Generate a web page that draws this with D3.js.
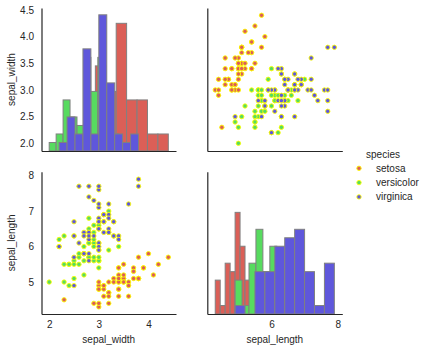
<!DOCTYPE html>
<html>
<head>
<meta charset="utf-8">
<script src="https://cdn.jsdelivr.net/npm/d3@7"></script>
<style>
    body { margin: 0; background: #fff; }
    text { font-family: "Liberation Sans", Arial, sans-serif; fill: #262626; }
</style>
</head>
<body>
<div id="chart_container"></div>
<script>
// iris, sepal measurements by species
var species = ["setosa", "versicolor", "virginica"];
var speciesColors = ["#db5f57", "#57db5f", "#5f57db"];

var setosaLength = [5.1, 4.9, 4.7, 4.6, 5.0, 5.4, 4.6, 5.0, 4.4, 4.9, 5.4, 4.8, 4.8, 4.3, 5.8, 5.7, 5.4, 5.1, 5.7, 5.1,
    5.4, 5.1, 4.6, 5.1, 4.8, 5.0, 5.0, 5.2, 5.2, 4.7, 4.8, 5.4, 5.2, 5.5, 4.9, 5.0, 5.5, 4.9, 4.4, 5.1,
    5.0, 4.5, 4.4, 5.0, 5.1, 4.8, 5.1, 4.6, 5.3, 5.0];
var setosaWidth = [3.5, 3.0, 3.2, 3.1, 3.6, 3.9, 3.4, 3.4, 2.9, 3.1, 3.7, 3.4, 3.0, 3.0, 4.0, 4.4, 3.9, 3.5, 3.8, 3.8,
    3.4, 3.7, 3.6, 3.3, 3.4, 3.0, 3.4, 3.5, 3.4, 3.2, 3.1, 3.4, 4.1, 4.2, 3.1, 3.2, 3.5, 3.6, 3.0, 3.4,
    3.5, 2.3, 3.2, 3.5, 3.8, 3.0, 3.8, 3.2, 3.7, 3.3];
var versicolorLength = [7.0, 6.4, 6.9, 5.5, 6.5, 5.7, 6.3, 4.9, 6.6, 5.2, 5.0, 5.9, 6.0, 6.1, 5.6, 6.7, 5.6, 5.8, 6.2, 5.6,
    5.9, 6.1, 6.3, 6.1, 6.4, 6.6, 6.8, 6.7, 6.0, 5.7, 5.5, 5.5, 5.8, 6.0, 5.4, 6.0, 6.7, 6.3, 5.6, 5.5,
    5.5, 6.1, 5.8, 5.0, 5.6, 5.7, 5.7, 6.2, 5.1, 5.7];
var versicolorWidth = [3.2, 3.2, 3.1, 2.3, 2.8, 2.8, 3.3, 2.4, 2.9, 2.7, 2.0, 3.0, 2.2, 2.9, 2.9, 3.1, 3.0, 2.7, 2.2, 2.5,
    3.2, 2.8, 2.5, 2.8, 2.9, 3.0, 2.8, 3.0, 2.9, 2.6, 2.4, 2.4, 2.7, 2.7, 3.0, 3.4, 3.1, 2.3, 3.0, 2.5,
    2.6, 3.0, 2.6, 2.3, 2.7, 3.0, 2.9, 2.9, 2.5, 2.8];
var virginicaLength = [6.3, 5.8, 7.1, 6.3, 6.5, 7.6, 4.9, 7.3, 6.7, 7.2, 6.5, 6.4, 6.8, 5.7, 5.8, 6.4, 6.5, 7.7, 7.7, 6.0,
    6.9, 5.6, 7.7, 6.3, 6.7, 7.2, 6.2, 6.1, 6.4, 7.2, 7.4, 7.9, 6.4, 6.3, 6.1, 7.7, 6.3, 6.4, 6.0, 6.9,
    6.7, 6.9, 5.8, 6.8, 6.7, 6.7, 6.3, 6.5, 6.2, 5.9];
var virginicaWidth = [3.3, 2.7, 3.0, 2.9, 3.0, 3.0, 2.5, 2.9, 2.5, 3.6, 3.2, 2.7, 3.0, 2.5, 2.8, 3.2, 3.0, 3.8, 2.6, 2.2,
    3.2, 2.8, 2.8, 2.7, 3.3, 3.2, 2.8, 3.0, 2.8, 3.0, 2.8, 3.8, 2.8, 2.8, 2.6, 3.0, 3.4, 3.1, 3.0, 3.1,
    3.1, 3.1, 2.7, 3.2, 3.3, 3.0, 2.5, 3.0, 3.4, 3.0];

var widthTicks = [2.0, 2.5, 3.0, 3.5, 4.0, 4.5];
var widthXTicks = [2, 3, 4];
var lengthYTicks = [5, 6, 7, 8];
var lengthXTicks = [6, 8];

var lengths = [setosaLength, versicolorLength, virginicaLength];
var widths = [setosaWidth, versicolorWidth, virginicaWidth];

// same binning as numpy: 10 equal bins over each species' own range
function histBins(vals, nb) {
    var lo = d3.min(vals), hi = d3.max(vals);
    var step = (hi - lo) / nb;
    var edges = [];
    for (var i = 0; i <= nb; i++) edges.push(i * step + lo);
    edges[nb] = hi;
    var counts = new Array(nb).fill(0);
    var norm = nb / (hi - lo);
    vals.forEach(function (x) {
        var k = Math.floor((x - lo) * norm);
        if (k === nb) k--;
        if (x < edges[k]) k--;
        else if (x >= edges[k + 1] && k !== nb - 1) k++;
        counts[k]++;
    });
    return counts.map(function (c, i) { return { x0: edges[i], x1: edges[i + 1], n: c }; });
}

var svg = d3.select("#chart_container")
    .append("svg")
    .attr("width", 427)
    .attr("height", 350);

// panel extents
var col = [[41.5, 176], [207.3, 342.3]];
var row = [[151, 8], [314, 171.7]];

var xW = d3.scaleLinear().domain([1.845, 4.555]).range(col[0]);
var xL = d3.scaleLinear().domain([4.06, 8.14]).range(col[1]);
var yW = d3.scaleLinear().domain([1.856, 4.537]).range(row[0]);
var yL = d3.scaleLinear().domain([4.10, 8.11]).range(row[1]);
var yHistTop = d3.scaleLinear().domain([0, 16.8]).range(row[0]);
var yHistBot = d3.scaleLinear().domain([0, 16.8]).range(row[1]);

function drawHist(g, data, x, y) {
    data.forEach(function (vals, k) {
        g.append("g").selectAll("rect")
            .data(histBins(vals, 10))
            .enter().append("rect")
            .attr("x", function (d) { return x(d.x0); })
            .attr("width", function (d) { return x(d.x1) - x(d.x0); })
            .attr("y", function (d) { return y(d.n); })
            .attr("height", function (d) { return y(0) - y(d.n); })
            .attr("fill", speciesColors[k])
            .attr("stroke", "#808080")
            .attr("stroke-width", 1);
    });
}

function drawScatter(g, xs, ys, x, y) {
    xs.forEach(function (vals, k) {
        g.append("g").selectAll("circle")
            .data(vals.map(function (v, i) { return [v, ys[k][i]]; }))
            .enter().append("circle")
            .attr("cx", function (d) { return x(d[0]); })
            .attr("cy", function (d) { return y(d[1]); })
            .attr("r", 2.2)
            .attr("fill", speciesColors[k])
            .attr("stroke", "#ffff00")
            .attr("stroke-width", 0.9);
    });
}

function drawAxes(x, y, xTicks, yTicks, xFmt, yFmt) {
    var xa = svg.append("g")
        .attr("class", "axis")
        .attr("transform", "translate(0," + y.range()[0] + ")")
        .call(d3.axisBottom(x).tickValues(xTicks).tickSize(0).tickPadding(7).tickFormat(xFmt));
    var ya = svg.append("g")
        .attr("class", "axis")
        .attr("transform", "translate(" + x.range()[0] + ",0)")
        .call(d3.axisLeft(y).tickValues(yTicks).tickSize(0).tickPadding(7.5).tickFormat(yFmt));
    [xa, ya].forEach(function (a) {
        a.select(".domain").attr("stroke", "#262626").attr("stroke-width", 1.2);
        a.selectAll("text").style("font-size", "10px").attr("fill", "#262626");
    });
}

// diagonal histograms
drawHist(svg.append("g"), widths, xW, yHistTop);
drawHist(svg.append("g"), lengths, xL, yHistBot);

// off-diagonal scatters
drawScatter(svg.append("g"), lengths, widths, xL, yW);
drawScatter(svg.append("g"), widths, lengths, xW, yL);

drawAxes(xW, yW, [], widthTicks, null, d3.format(".1f"));
drawAxes(xL, yW, [], [], null, null);
drawAxes(xW, yL, widthXTicks, lengthYTicks, d3.format("d"), d3.format("d"));
drawAxes(xL, yL, lengthXTicks, [], d3.format("d"), null);

// axis labels
svg.append("text")
    .attr("transform", "translate(15," + ((row[0][0] + row[0][1]) / 2) + ") rotate(-90)")
    .attr("text-anchor", "middle")
    .style("font-size", "10px")
    .text("sepal_width");
svg.append("text")
    .attr("transform", "translate(15," + ((row[1][0] + row[1][1]) / 2) + ") rotate(-90)")
    .attr("text-anchor", "middle")
    .style("font-size", "10px")
    .text("sepal_length");
svg.append("text")
    .attr("x", (col[0][0] + col[0][1]) / 2)
    .attr("y", 342.5)
    .attr("text-anchor", "middle")
    .style("font-size", "10px")
    .text("sepal_width");
svg.append("text")
    .attr("x", (col[1][0] + col[1][1]) / 2)
    .attr("y", 342.5)
    .attr("text-anchor", "middle")
    .style("font-size", "10px")
    .text("sepal_length");

// legend
var legend = svg.append("g").attr("transform", "translate(359,154)");
legend.append("text")
    .attr("x", 24)
    .attr("y", 3.5)
    .attr("text-anchor", "middle")
    .style("font-size", "10px")
    .text("species");
species.forEach(function (s, k) {
    var ly = 14.3 * (k + 1);
    legend.append("circle")
        .attr("cx", 0)
        .attr("cy", ly)
        .attr("r", 2.2)
        .attr("fill", speciesColors[k])
        .attr("stroke", "#ffff00")
        .attr("stroke-width", 0.9);
    legend.append("text")
        .attr("x", 17)
        .attr("y", ly + 3.5)
        .style("font-size", "10px")
        .text(s);
});
</script>
</body>
</html>
